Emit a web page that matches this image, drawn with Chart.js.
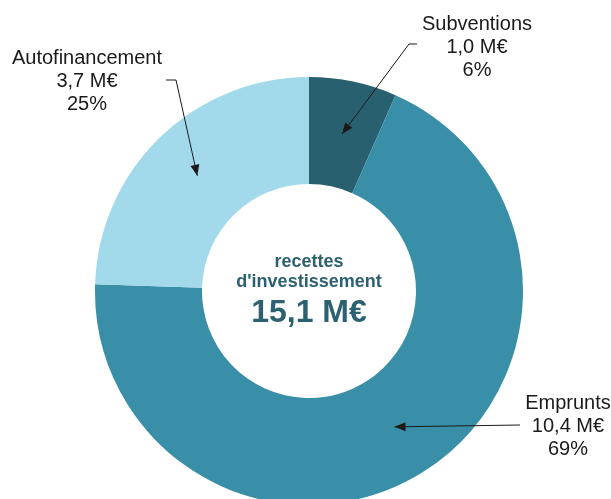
<!DOCTYPE html>
<html>
<head>
<meta charset="utf-8">
<script src="https://cdn.jsdelivr.net/npm/chart.js@4.4.0/dist/chart.umd.min.js"></script>
<style>
  html, body { margin: 0; padding: 0; background: #fff; overflow: hidden; width: 611px; height: 499px; }
  #wrap { position: absolute; left: 0; top: 0; width: 611px; height: 582px; }
</style>
</head>
<body>
<div id="wrap"><canvas id="chart"></canvas></div>
<script>
// recettes d'investissement (M€)
const labels = ['Subventions', 'Emprunts', 'Autofinancement'];
const values = [1.0, 10.4, 3.7];
const percents = ['6%', '69%', '25%'];
const colors = ['#28606f', '#3a8fa8', '#a2d9eb'];
const centerTitle = ['recettes', "d'investissement"];

function fmt(v) {
    return v.toFixed(1).replace('.', ',') + ' M€';
}
const total = values.reduce((a, b) => a + b, 0);

// where each label block sits, and where its leader line starts
const callouts = [
    { x: 477, y: 24, path: [[417, 44], [409, 44]] },
    { x: 568, y: 403, path: [[520, 425]] },
    { x: 87, y: 58, path: [[166, 80], [176, 80]] }
];

function arrowHead(ctx, fx, fy, tx, ty) {
    const a = Math.atan2(ty - fy, tx - fx);
    const len = 11, w = 4.5;
    ctx.beginPath();
    ctx.moveTo(tx, ty);
    ctx.lineTo(tx - len * Math.cos(a) + w * Math.sin(a), ty - len * Math.sin(a) - w * Math.cos(a));
    ctx.lineTo(tx - len * Math.cos(a) - w * Math.sin(a), ty - len * Math.sin(a) + w * Math.cos(a));
    ctx.closePath();
    ctx.fill();
}

const labelPlugin = {
    id: 'labelPlugin',
    afterDraw(chart) {
        const ctx = chart.ctx;
        const meta = chart.getDatasetMeta(0);
        ctx.save();

        // centre text
        const cx = meta.data[0].x, cy = meta.data[0].y;
        ctx.fillStyle = '#2b6170';
        ctx.textAlign = 'center';
        ctx.textBaseline = 'alphabetic';
        ctx.font = 'bold 18px "Liberation Sans", Arial, sans-serif';
        ctx.fillText(centerTitle[0], cx, cy - 24);
        ctx.fillText(centerTitle[1], cx, cy - 4);
        ctx.font = 'bold 32px "Liberation Sans", Arial, sans-serif';
        ctx.fillText(fmt(total), cx, cy + 31);

        // outside labels with arrows
        meta.data.forEach((arc, i) => {
            const c = callouts[i];
            const tip = arc.tooltipPosition();
            ctx.fillStyle = '#1a1a1a';
            ctx.textBaseline = 'middle';
            ctx.font = '20px "Liberation Sans", Arial, sans-serif';
            ctx.fillText(labels[i], c.x, c.y);
            ctx.fillText(fmt(values[i]), c.x, c.y + 23);
            ctx.fillText(percents[i], c.x, c.y + 46);

            const pts = c.path.concat([[tip.x, tip.y]]);
            ctx.strokeStyle = '#1a1a1a';
            ctx.lineWidth = 1;
            ctx.beginPath();
            ctx.moveTo(pts[0][0], pts[0][1]);
            for (let k = 1; k < pts.length; k++) ctx.lineTo(pts[k][0], pts[k][1]);
            ctx.stroke();
            const prev = pts[pts.length - 2];
            arrowHead(ctx, prev[0], prev[1], tip.x, tip.y);
        });
        ctx.restore();
    }
};

new Chart(document.getElementById('chart'), {
    type: 'doughnut',
    data: {
        labels: labels,
        datasets: [{
            data: values,
            backgroundColor: colors,
            borderWidth: 0
        }]
    },
    options: {
        responsive: true,
        maintainAspectRatio: false,
        animation: false,
        cutout: '50%',
        layout: { padding: { top: 77, bottom: 77, left: 95, right: 88 } },
        plugins: {
            legend: { display: false },
            tooltip: { enabled: false }
        }
    },
    plugins: [labelPlugin]
});
</script>
</body>
</html>
